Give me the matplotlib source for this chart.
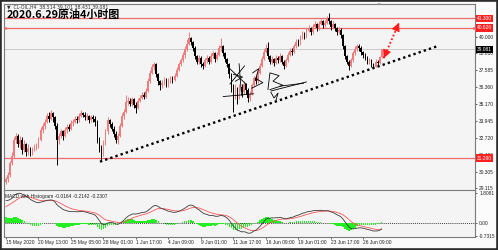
import matplotlib.pyplot as plt
from matplotlib.patches import Rectangle
from matplotlib.transforms import blended_transform_factory
import numpy as np

# H4 candles, CL-OIL, 15 May - 29 Jun 2020 (open = previous close)
first_open = 29.55
closes = [29.75, 30.05, 30.9, 31.4, 32.6, 32.9, 32.3, 32.6, 31.9, 32.3,
          31.7, 32.0, 31.6, 31.9, 32.1, 32.2, 32.6, 33.3, 33.6, 33.9,
          34.3, 34.1, 34.5, 34.2, 33.6, 32.6, 32.9, 33.2, 32.9, 33.3,
          33.5, 33.4, 33.8, 33.9, 34.1, 34.0, 34.3, 34.5, 34.4, 34.2,
          34.3, 34.0, 34.2, 34.1, 33.9, 32.6, 32.0, 31.6, 32.4, 33.2,
          34.0, 33.7, 33.4, 33.0, 32.6, 32.9, 33.6, 34.3, 34.6, 35.3,
          35.4, 35.2, 35.5, 35.1, 34.9, 35.4, 35.6, 35.8, 35.7, 36.1,
          36.8, 37.4, 37.8, 38.0, 37.3, 36.8, 36.5, 36.7, 36.9, 36.6,
          36.8, 37.0, 36.9, 37.2, 37.6, 38.0, 38.3, 38.7, 39.1, 39.5,
          39.9, 39.6, 39.2, 38.6, 38.2, 38.5, 38.0, 37.9, 38.3, 38.5,
          38.2, 38.6, 38.8, 38.4, 38.7, 39.2, 39.3, 38.8, 38.4, 38.0,
          37.3, 36.4, 36.0, 36.3, 35.7, 36.4, 36.0, 36.6, 36.2, 35.6,
          35.9, 36.5, 37.0, 36.8, 37.4, 37.9, 38.4, 38.9, 39.2, 38.6,
          38.2, 38.4, 38.1, 38.5, 38.3, 38.6, 38.2, 37.9, 38.3, 38.7,
          39.0, 38.9, 39.3, 39.6, 39.5, 39.9, 40.2, 40.0, 40.4, 40.6,
          40.3, 40.7, 40.9, 40.6, 40.9, 41.1, 40.8, 41.0, 41.3, 41.1,
          40.7, 40.9, 40.6, 40.3, 40.5, 40.1, 39.3, 38.6, 38.2, 37.9,
          38.3, 38.8, 39.1, 39.3, 39.2, 38.9, 38.7, 38.5, 38.2, 38.3,
          38.0, 37.85, 38.2, 38.1, 38.514, 39.081]
highs = [29.95, 30.3, 31.1, 31.7, 32.8, 33.1, 33.0, 32.9, 32.8, 32.6,
         32.4, 32.3, 32.1, 32.1, 32.3, 32.4, 32.8, 33.5, 33.8, 34.1,
         34.5, 34.6, 34.7, 34.6, 34.3, 33.8, 33.1, 33.4, 33.3, 33.5,
         33.7, 33.7, 34.0, 34.1, 34.3, 34.3, 34.5, 34.7, 34.6, 34.6,
         34.5, 34.4, 34.4, 34.4, 34.3, 34.0, 32.8, 32.2, 32.6, 33.4,
         34.2, 34.1, 33.9, 33.6, 33.2, 33.1, 33.8, 34.5, 34.8, 35.8,
         35.7, 35.6, 35.7, 35.6, 35.3, 35.6, 35.8, 36.0, 36.0, 36.3,
         37.0, 37.6, 38.0, 38.2, 38.1, 37.4, 36.9, 36.9, 37.1, 37.0,
         37.0, 37.2, 37.2, 37.4, 37.8, 38.2, 38.5, 38.9, 39.3, 39.8,
         40.3, 40.0, 39.7, 39.3, 38.7, 38.7, 38.6, 38.2, 38.5, 38.7,
         38.6, 38.8, 39.0, 38.9, 38.9, 39.4, 39.9, 39.4, 38.9, 38.5,
         38.1, 37.4, 36.6, 36.6, 36.4, 36.6, 36.6, 36.8, 36.7, 36.3,
         36.1, 36.7, 37.2, 37.2, 37.6, 38.1, 38.6, 39.1, 39.5, 39.6,
         38.7, 38.6, 38.5, 38.7, 38.6, 38.8, 38.7, 38.3, 38.5, 38.9,
         39.2, 39.2, 39.5, 39.8, 39.8, 40.1, 40.4, 40.3, 40.6, 40.8,
         40.7, 40.9, 41.1, 41.0, 41.1, 41.3, 41.2, 41.2, 41.5, 41.7,
         41.2, 41.1, 41.0, 40.7, 40.7, 40.6, 40.2, 39.4, 38.7, 38.3,
         38.5, 39.0, 39.3, 39.5, 39.5, 39.3, 39.0, 38.8, 38.6, 38.5,
         38.4, 38.1, 38.4, 38.3, 38.6, 39.101]
lows = [29.45, 29.6, 29.95, 30.8, 31.3, 32.4, 32.1, 32.0, 31.6, 31.7,
        31.4, 31.5, 31.4, 31.5, 31.8, 31.9, 32.0, 32.5, 33.1, 33.4,
        33.8, 33.9, 34.0, 33.9, 33.4, 30.8, 32.3, 32.7, 32.6, 32.8,
        33.1, 33.2, 33.3, 33.6, 33.8, 33.8, 33.9, 34.2, 34.2, 34.0,
        34.0, 33.8, 33.9, 33.9, 33.6, 32.4, 31.7, 31.15, 31.4, 32.2,
        33.0, 33.5, 33.2, 32.8, 32.4, 32.3, 32.8, 33.5, 34.1, 34.5,
        35.1, 35.0, 35.0, 34.9, 34.5, 34.8, 35.3, 35.5, 35.5, 35.6,
        36.0, 36.7, 37.3, 37.6, 37.1, 36.5, 36.2, 36.3, 36.5, 36.4,
        36.4, 36.7, 36.7, 36.8, 37.1, 37.5, 37.9, 38.2, 38.5, 39.0,
        39.4, 39.4, 39.0, 38.4, 38.0, 38.0, 37.8, 37.7, 37.8, 38.1,
        38.0, 38.1, 38.5, 38.2, 38.3, 38.6, 39.0, 38.6, 38.2, 37.8,
        37.0, 36.0, 34.6, 35.5, 35.2, 35.5, 35.7, 35.9, 35.9, 35.3,
        35.4, 35.8, 36.4, 36.6, 36.7, 37.3, 37.8, 38.3, 38.8, 38.4,
        38.0, 38.0, 37.9, 38.0, 38.1, 38.2, 38.0, 37.7, 37.8, 38.2,
        38.6, 38.7, 38.8, 39.2, 39.3, 39.4, 39.8, 39.8, 39.9, 40.3,
        40.1, 40.2, 40.6, 40.4, 40.5, 40.8, 40.6, 40.7, 40.9, 40.9,
        40.5, 40.6, 40.4, 40.1, 40.2, 39.9, 39.1, 38.4, 38.0, 37.6,
        37.8, 38.2, 38.7, 39.0, 39.0, 38.7, 38.5, 38.3, 38.0, 38.0,
        37.8, 37.75, 37.8, 37.9, 38.0, 38.431]

date_labels = ['15 May 2020', '20 May 13:00', '25 May 05:00', '28 May 01:00',
               '1 Jun 17:00', '4 Jun 09:00', '9 Jun 01:00', '11 Jun 17:00',
               '16 Jun 09:00', '19 Jun 01:00', '23 Jun 17:00', '26 Jun 09:00']
bars_per_label = 16

price_ticks = [40.000, 38.810, 37.585, 36.360, 35.170, 33.945, 32.720, 31.496, 30.305, 29.115]
red_levels = [41.300, 40.626, 31.290]
last_price = 39.081

# MACD(12, 26, 9) with EMA seeds taken from the bars before the window
fast_span, slow_span, signal_span = 12, 26, 9
fast_seed, slow_seed, signal_seed = 28.6, 27.3, 0.85
macd_top, macd_bottom = 1.8081, -0.7315

# hand drawn trend line / target arrow (bar index, price)
trend_start, trend_end = (46.3, 31.03), (212.8, 39.33)
arrow_low, arrow_high = (186.0, 38.45), (193.6, 41.0)

BULL = '#f37b7b'
BEAR = '#000000'
LEVEL_RED = '#f06a6a'
SMALL = dict(fontsize=3.5, family=['Liberation Sans', 'DejaVu Sans'])


def ema(values, span, seed):
    a = 2.0 / (span + 1)
    out, e = [], seed
    for v in values:
        e = e + a * (v - e)
        out.append(e)
    return np.array(out)


closes = np.array(closes)
opens = np.concatenate([[first_open], closes[:-1]])
idx = np.arange(len(closes))

macd = ema(closes, fast_span, fast_seed) - ema(closes, slow_span, slow_seed)
signal = ema(macd, signal_span, signal_seed)
hist = macd - signal

fig = plt.figure(figsize=(4.98, 2.5), dpi=100, facecolor='#fbfbfb')
ax = fig.add_axes([4 / 498, 1 - 190.5 / 250, 471 / 498, 186.5 / 250])
axm = fig.add_axes([4 / 498, 1 - 236.7 / 250, 471 / 498, 46.2 / 250], sharex=ax)

for a in (ax, axm):
    a.set_facecolor('#f4f4f4')
    for s in a.spines.values():
        s.set_color('#7a7a7a')
        s.set_linewidth(0.8)

# candles
cols = [BULL if c >= o else BEAR for o, c in zip(opens, closes)]
ax.vlines(idx, lows, highs, colors=cols, linewidth=0.7, zorder=3)
body_lo = np.minimum(opens, closes)
body_h = np.maximum(np.abs(closes - opens), 0.04)
ax.bar(idx, body_h, bottom=body_lo, width=0.85, color=cols, linewidth=0, zorder=3)

ax.set_xlim(-0.985, 231.0)
ax.set_ylim(28.96, 42.34)

# horizontal levels
for lv in red_levels:
    ax.axhline(lv, color=LEVEL_RED, linewidth=0.9, zorder=2)
ax.axhline(last_price, color='#c4c4c4', linewidth=0.6, zorder=1)
ax.plot([-0.6, 230.6], [40.626, 40.626], linestyle='none', marker='s', ms=1.8,
        mfc='none', mec=LEVEL_RED, mew=0.5, zorder=4)

# trend line and arrow
ax.plot([trend_start[0], trend_end[0]], [trend_start[1], trend_end[1]],
        color='black', linewidth=1.7, linestyle=(0, (1, 1.3)), zorder=5)
ax.plot([arrow_low[0], arrow_high[0]], [arrow_low[1], arrow_high[1]],
        color='#ff1a1a', linewidth=1.3, linestyle=(0, (1, 1.2)), zorder=5)
for tip, tail in ((arrow_high, arrow_low), (arrow_low, arrow_high)):
    tx = tip[0] + (tail[0] - tip[0]) * 0.12
    ty = tip[1] + (tail[1] - tip[1]) * 0.12
    ax.annotate('', xy=tip, xytext=(tx, ty),
                arrowprops=dict(arrowstyle='-|>,head_length=0.5,head_width=0.25',
                                color='#ff1a1a', lw=0.8, shrinkA=0, shrinkB=0), zorder=6)

# signature scribble (bar index, price)
sig_strokes = [
    [(108.8, 37.9), (118.5, 36.55)],
    [(110.3, 36.6), (117.5, 37.9)],
    [(114.8, 38.05), (116.0, 35.8)],
    [(107.0, 35.7), (122.0, 35.9)],
    [(112.0, 37.3), (116.5, 37.1), (113.0, 36.8)],
    [(121.5, 37.4), (124.5, 37.7), (123.0, 37.0), (126.5, 36.7), (121.0, 36.3)],
    [(129.0, 36.2), (130.0, 37.4), (134.5, 37.2), (131.5, 36.8), (136.5, 36.5), (130.0, 36.2)],
    [(130.5, 36.1), (148.0, 36.75)],
    [(135.0, 36.45), (146.5, 36.65)],
    [(130.5, 36.0), (132.0, 35.6), (134.0, 35.95), (133.0, 35.45)],
]
for st in sig_strokes:
    xs, ys = zip(*st)
    ax.plot(xs, ys, color='black', linewidth=0.6, zorder=6)

# price axis
ax.yaxis.tick_right()
ax.set_yticks(price_ticks)
ax.set_yticklabels([f'{v:.3f}' for v in price_ticks], **SMALL)
ax.tick_params(axis='y', length=1.5, width=0.5, pad=1.5, colors='#222222')
ax.tick_params(axis='x', bottom=False, labelbottom=False)
yt = blended_transform_factory(ax.transAxes, ax.transData)
for lv in red_levels:
    ax.text(1.004, lv, f'{lv:.3f}', transform=yt, color='white',
            va='center', ha='left', zorder=10, **SMALL,
            bbox=dict(boxstyle='square,pad=0.25', fc='#ff2020', ec='none'))
ax.text(1.004, last_price, f'{last_price:.3f}', transform=yt,
        color='white', va='center', ha='left', zorder=10, **SMALL,
        bbox=dict(boxstyle='square,pad=0.25', fc='black', ec='none'))

# MACD panel
axm.bar(idx, hist, width=0.75, color='#22ee22', linewidth=0, zorder=2)
axm.plot(idx, signal, color='#ff5555', linewidth=0.6, zorder=3)
axm.plot(idx, macd, color='#3c3c3c', linewidth=0.6, zorder=4)
axm.axhline(0, color='black', linewidth=0.5, linestyle=(0, (1.5, 1.5)), zorder=1)
axm.set_ylim(macd_bottom - 0.04, macd_top + 0.06)
axm.yaxis.tick_right()
axm.set_yticks([macd_top - 0.08, 0, macd_bottom])
axm.set_yticklabels([f'{macd_top:.4f}', '0.00', f'{macd_bottom:.4f}'], **SMALL)
axm.tick_params(axis='y', length=1.5, width=0.5, pad=1.5, colors='#222222')
axm.set_xticks(np.arange(len(date_labels)) * bars_per_label)
axm.set_xticklabels(date_labels, ha='left', **SMALL)
axm.tick_params(axis='x', length=1.5, width=0.5, pad=1.2, colors='#222222')
axm.text(0.003, 0.93, 'MACD with Histogram -0.0164 -0.2142 -0.2307',
         transform=axm.transAxes, color='#222222', va='top', ha='left', **SMALL)

# header texts
fig.text(7 / 498, 1 - 6.5 / 250, '\u25bc  CL-OIL,H4  38.514 39.101 38.431 39.081',
         fontsize=3.3, color='#333333', va='center', ha='left', family=['DejaVu Sans'])
fig.text(7 / 498, 1 - 15 / 250, '2020.6.29原油4小时图', fontsize=7.9,
         fontweight='bold', color='black', va='center', ha='left',
         family=['Noto Sans CJK SC', 'DejaVu Sans'])
fig.text(379 / 498, 1 - 4.5 / 250, '\u25bc', fontsize=2.5, color='#999999',
         va='center', ha='center', family=['DejaVu Sans'])

fig.patches.append(Rectangle((0, 0), 1, 1, transform=fig.transFigure, fill=False,
                             edgecolor='#2b2b2b', linewidth=2.6))

fig.savefig('out.png', dpi=100, facecolor=fig.get_facecolor())
